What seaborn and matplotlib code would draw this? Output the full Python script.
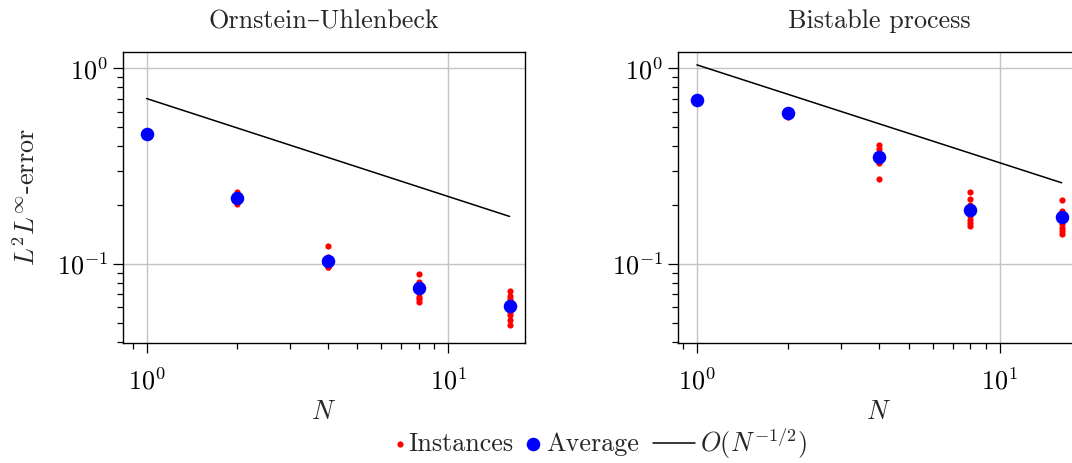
import numpy as np
import pandas as pd
import matplotlib
matplotlib.use("Agg")
import matplotlib.pyplot as plt
import seaborn as sns
from matplotlib.ticker import LogLocator, NullFormatter

# ---------------- data ----------------
N_values = [1, 2, 4, 8, 16]

ou_instances = [
    [0.460, 0.464, 0.466, 0.468, 0.470, 0.472, 0.475, 0.478],
    [0.203, 0.210, 0.214, 0.218, 0.221, 0.224, 0.228, 0.232],
    [0.123, 0.108, 0.105, 0.102, 0.100, 0.098, 0.097, 0.096],
    [0.089, 0.081, 0.078, 0.074, 0.071, 0.068, 0.066, 0.064],
    [0.073, 0.069, 0.066, 0.063, 0.060, 0.057, 0.055, 0.052, 0.049],
]
ou_average = [0.464, 0.217, 0.104, 0.075, 0.061]

bi_instances = [
    [0.680, 0.684, 0.685, 0.688, 0.690, 0.693, 0.696, 0.700],
    [0.565, 0.578, 0.585, 0.588, 0.590, 0.592, 0.595, 0.598],
    [0.403, 0.385, 0.370, 0.360, 0.350, 0.340, 0.327, 0.272],
    [0.232, 0.215, 0.200, 0.190, 0.182, 0.175, 0.168, 0.162, 0.157],
    [0.213, 0.187, 0.178, 0.168, 0.160, 0.153, 0.147, 0.142],
]
bi_average = [0.690, 0.590, 0.354, 0.188, 0.173]

ref_N = [1, 16]
ou_ref = [0.70, 0.175]
bi_ref = [1.04, 0.26]

titles = ["Ornstein\u2013Uhlenbeck", "Bistable process"]
legend_labels = ["Instances", "Average", r"$O(N^{-1/2})$"]
x_limits = [(0.835, 18.0), (0.866, 18.4)]

# ---------------- style ----------------
FS = 18.8
sns.set_theme(style="ticks")
plt.rcParams.update({
    "font.family": ["cmr10", "DejaVu Serif"],
    "mathtext.fontset": "cm",
    "axes.formatter.use_mathtext": True,
    "font.size": FS,
    "axes.labelsize": FS,
    "axes.titlesize": FS,
    "xtick.labelsize": FS,
    "ytick.labelsize": FS,
    "legend.fontsize": FS,
    "axes.linewidth": 1.0,
    "axes.edgecolor": "black",
    "xtick.color": "black",
    "ytick.color": "black",
    "xtick.direction": "out",
    "ytick.direction": "out",
    "xtick.major.size": 7,
    "ytick.major.size": 7,
    "xtick.minor.size": 4.5,
    "ytick.minor.size": 4.5,
    "xtick.major.width": 0.9,
    "ytick.major.width": 0.9,
    "xtick.minor.width": 0.9,
    "ytick.minor.width": 0.9,
})

W, H = 1072, 463
fig = plt.figure(figsize=(W / 100, H / 100), dpi=100)
ax_w = 402 / W
ax_h = (343 - 52) / H
ax_b = 1 - 343 / H
axes = [fig.add_axes([123 / W, ax_b, ax_w, ax_h]),
        fig.add_axes([678 / W, ax_b, ax_w, ax_h])]

panels = [(ou_instances, ou_average, ou_ref), (bi_instances, bi_average, bi_ref)]

for ax, (inst, avg, ref), title, xl in zip(axes, panels, titles, x_limits):
    inst_df = pd.DataFrame({
        "N": [n for n, vals in zip(N_values, inst) for _ in vals],
        "err": [v for vals in inst for v in vals],
    })
    avg_df = pd.DataFrame({"N": N_values, "err": avg})
    ref_df = pd.DataFrame({"N": ref_N, "err": ref})

    sns.scatterplot(data=inst_df, x="N", y="err", ax=ax, color="#ff0000",
                    s=20, linewidth=0, zorder=3, label=legend_labels[0], legend=False)
    sns.scatterplot(data=avg_df, x="N", y="err", ax=ax, color="#0000ff",
                    s=95, linewidth=0, zorder=4, label=legend_labels[1], legend=False)
    sns.lineplot(data=ref_df, x="N", y="err", ax=ax, color="black",
                 linewidth=1.1, zorder=2, label=legend_labels[2], legend=False)

    ax.set_xscale("log")
    ax.set_yscale("log")
    ax.set_xlim(*xl)
    ax.set_ylim(0.0395, 1.21)
    ax.xaxis.set_minor_locator(LogLocator(base=10, subs=np.arange(2, 10)))
    ax.yaxis.set_minor_locator(LogLocator(base=10, subs=np.arange(2, 10)))
    ax.xaxis.set_minor_formatter(NullFormatter())
    ax.yaxis.set_minor_formatter(NullFormatter())
    ax.grid(True, which="major", color="#c4c4c4", linewidth=1.0, zorder=0)
    ax.set_axisbelow(True)
    ax.tick_params(axis="x", which="major", pad=11)
    ax.tick_params(axis="y", which="major", pad=4)
    ax.set_xlabel(r"$N$", labelpad=4)
    ax.set_ylabel("")
    ax.set_title(title, pad=17)
    for sp in ax.spines.values():
        sp.set_color("black")
        sp.set_linewidth(1.0)

axes[0].set_ylabel(r"$L^2L^\infty$-error", labelpad=12)

# legend: one entry per legend so each handle can have its own length
handles, labels = axes[0].get_legend_handles_labels()
leg_y = 1 - 444 / H
entry_specs = [  # (left x px, handlelength, handletextpad)
    (395, 0.40, 0.10),
    (525, 0.60, 0.23),
    (653, 1.62, 0.19),
]
for h, l, (x0, hl, hp) in zip(handles, labels, entry_specs):
    fig.legend([h], [l], loc="center left", bbox_to_anchor=(x0 / W, leg_y),
               frameon=False, scatterpoints=1, handlelength=hl,
               handletextpad=hp, borderpad=0, borderaxespad=0, fontsize=FS)

fig.savefig("out.png", dpi=100)
